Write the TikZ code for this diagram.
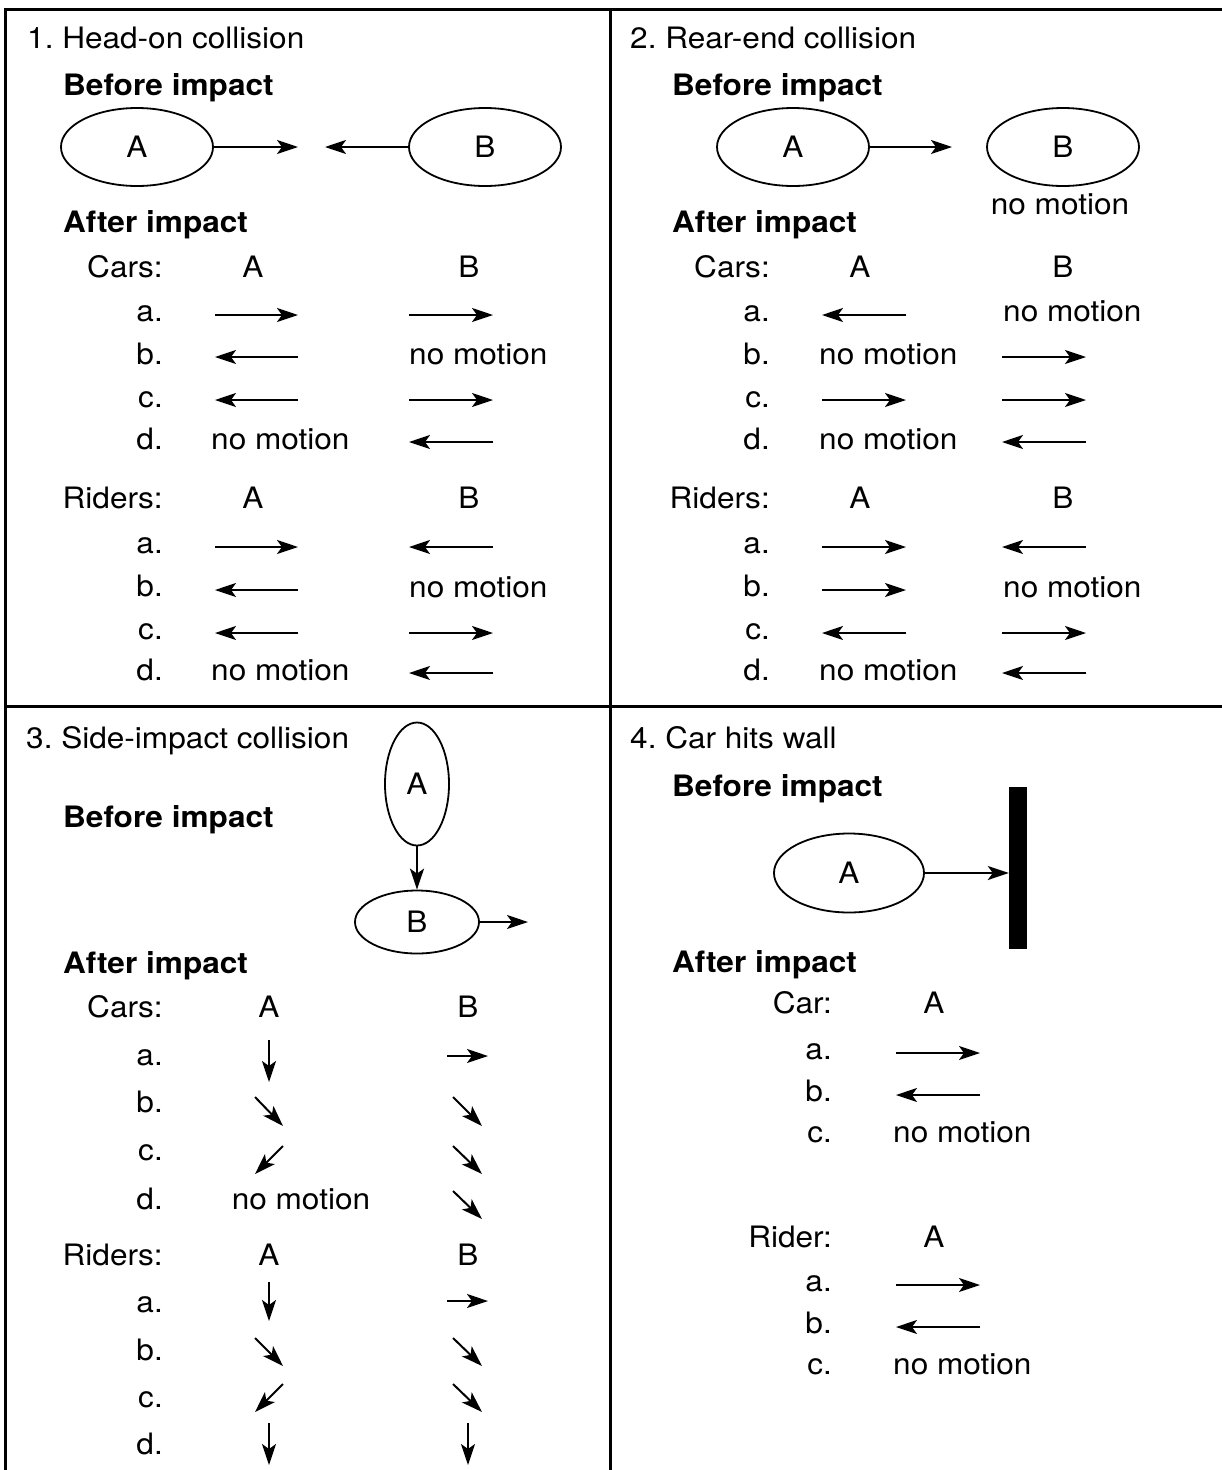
\documentclass[tikz,border=0pt]{standalone}
\usepackage{fontspec}
\setmainfont{TeX Gyre Heros}[FakeStretch=1.07]
\usetikzlibrary{arrows.meta,shapes.geometric}
\newcommand\mvR[3]{\draw[mot] (#1,#2) -- ++(#3,0);}
\newcommand\mvL[3]{\draw[mot] (#1+#3,#2) -- ++(-#3,0);}
\begin{document}
\frenchspacing
\begin{tikzpicture}[x=1pt,y=-1pt,
  every node/.style={font=\fontsize{29.5}{34}\selectfont, inner sep=0pt},
  frame/.style={line width=3pt},
  mot/.style={line width=2pt,-{Stealth[length=21pt,width=14pt,inset=5pt]}},
  car/.style={draw,ellipse,line width=1.8pt,minimum width=152pt,minimum height=78pt},
  hd/.style={anchor=mid west,yshift=-5pt,font=\fontsize{29.5}{34}\selectfont\bfseries},
  ttl/.style={anchor=mid west,yshift=-5pt},
  lbl/.style={anchor=mid east,yshift=-5pt},
  col/.style={anchor=mid,yshift=-5pt},
  nm/.style={anchor=mid west,yshift=-5pt},
]
\useasboundingbox (0,0) rectangle (1222,1470);
\fill[white] (0,0) rectangle (1222,1470);
% frame
\draw[frame] (1222,9) -- (5,9) -- (5,1470);
\draw[frame] (610,9) -- (610,1470);
\draw[frame] (5,706) -- (1222,706);

% ================= Panel 1 =================
\node[ttl] (t1) at (27,41) {1. Head-on collision};
\node[hd] (b1) at (63,88) {Before impact};
\node[car] (A1) at (137,147) {A};
\node[car] (B1) at (485,147) {B};
\coordinate (A1t) at (298,147);
\coordinate (B1t) at (325,147);
\draw[mot] (A1.east) -- (A1t);
\draw[mot] (B1.west) -- (B1t);
\node[hd] (f1) at (63,225) {After impact};
\node[lbl] (c1) at (163,270) {Cars:};
\node[col] (c1A) at (253,270) {A};
\node[col] (c1B) at (469,270) {B};
\node[lbl] (c1a) at (163,314) {a.};
\node[lbl] (c1b) at (163,357) {b.};
\node[lbl] (c1c) at (163,400) {c.};
\node[lbl] (c1d) at (163,442) {d.};
\mvR{215}{315}{83} \mvR{409}{315}{84}
\mvL{215}{357}{83} \node[nm] (n1b) at (409,357) {no motion};
\mvL{215}{400}{83} \mvR{409}{400}{84}
\node[nm] (n1d) at (211,442) {no motion}; \mvL{409}{442}{84}
\node[lbl] (r1) at (163,501) {Riders:};
\node[col] (r1A) at (253,501) {A};
\node[col] (r1B) at (469,501) {B};
\node[lbl] (r1a) at (163,546) {a.};
\node[lbl] (r1b) at (163,589) {b.};
\node[lbl] (r1c) at (163,632) {c.};
\node[lbl] (r1d) at (163,673) {d.};
\mvR{215}{547}{83} \mvL{409}{547}{84}
\mvL{215}{590}{83} \node[nm] (m1b) at (409,590) {no motion};
\mvL{215}{633}{83} \mvR{409}{633}{84}
\node[nm] (m1d) at (211,673) {no motion}; \mvL{409}{673}{84}

% ================= Panel 2 =================
\node[ttl] (t2) at (630,41) {2. Rear-end collision};
\node[hd] (b2) at (672,88) {Before impact};
\node[car] (A2) at (793,147) {A};
\node[car] (B2) at (1063,147) {B};
\coordinate (A2t) at (952,147);
\draw[mot] (A2.east) -- (A2t);
\node[col] (B2n) at (1060,207) {no motion};
\node[hd] (f2) at (672,225) {After impact};
\node[lbl] (c2) at (770,270) {Cars:};
\node[col] (c2A) at (860,270) {A};
\node[col] (c2B) at (1063,270) {B};
\node[lbl] (c2a) at (770,314) {a.};
\node[lbl] (c2b) at (770,357) {b.};
\node[lbl] (c2c) at (770,400) {c.};
\node[lbl] (c2d) at (770,442) {d.};
\mvL{822}{315}{84} \node[nm] (n2a) at (1003,314) {no motion};
\node[nm] (n2b) at (819,357) {no motion}; \mvR{1002}{357}{84}
\mvR{822}{400}{84} \mvR{1002}{400}{84}
\node[nm] (n2d) at (819,442) {no motion}; \mvL{1002}{442}{84}
\node[lbl] (r2) at (770,501) {Riders:};
\node[col] (r2A) at (860,501) {A};
\node[col] (r2B) at (1063,501) {B};
\node[lbl] (r2a) at (770,546) {a.};
\node[lbl] (r2b) at (770,589) {b.};
\node[lbl] (r2c) at (770,632) {c.};
\node[lbl] (r2d) at (770,673) {d.};
\mvR{822}{547}{84} \mvL{1002}{547}{84}
\mvR{822}{590}{84} \node[nm] (m2b) at (1003,590) {no motion};
\mvL{822}{633}{84} \mvR{1002}{633}{84}
\node[nm] (m2d) at (819,673) {no motion}; \mvL{1002}{673}{84}

% ================= Panel 3 =================
\node[ttl] (t3) at (26,741) {3. Side-impact collision};
\node[hd] (b3) at (63,820) {Before impact};
\node[draw,ellipse,line width=1.8pt,minimum width=64pt,minimum height=123pt] (A3) at (417,784) {A};
\node[draw,ellipse,line width=1.8pt,minimum width=124pt,minimum height=63pt] (B3) at (417,922) {B};
\draw[mot] (A3.south) -- (B3.north);
\coordinate (B3t) at (528,922);
\draw[mot] (B3.east) -- (B3t);
\node[hd] (f3) at (63,966) {After impact};
\node[lbl] (c3) at (163,1010) {Cars:};
\node[col] (c3A) at (269,1010) {A};
\node[col] (c3B) at (468,1010) {B};
\node[lbl] (c3a) at (163,1058) {a.};
\node[lbl] (c3b) at (163,1105) {b.};
\node[lbl] (c3c) at (163,1153) {c.};
\node[lbl] (c3d) at (163,1202) {d.};
\draw[mot] (269,1040) -- (269,1082);
\draw[mot] (447,1056) -- (488,1056);
\draw[mot] (255,1097) -- (283,1126);
\draw[mot] (453,1097) -- (482,1126);
\draw[mot] (283,1146) -- (255,1174);
\draw[mot] (453,1146) -- (482,1174);
\node[col] (n3d) at (301,1202) {no motion};
\draw[mot] (453,1191) -- (482,1219);
\node[lbl] (r3) at (163,1258) {Riders:};
\node[col] (r3A) at (269,1258) {A};
\node[col] (r3B) at (468,1258) {B};
\node[lbl] (r3a) at (163,1305) {a.};
\node[lbl] (r3b) at (163,1353) {b.};
\node[lbl] (r3c) at (163,1400) {c.};
\node[lbl] (r3d) at (163,1447) {d.};
\draw[mot] (269,1282) -- (269,1321);
\draw[mot] (447,1301) -- (488,1301);
\draw[mot] (255,1338) -- (283,1366);
\draw[mot] (453,1338) -- (482,1366);
\draw[mot] (283,1384) -- (255,1412);
\draw[mot] (453,1384) -- (482,1412);
\draw[mot] (269,1423) -- (269,1465);
\draw[mot] (468,1423) -- (468,1465);

% ================= Panel 4 =================
\node[ttl] (t4) at (630,741) {4. Car hits wall};
\node[hd] (b4) at (672,789) {Before impact};
\node[car,minimum width=150pt,minimum height=79pt] (A4) at (849,873) {A};
\node[fill=black,minimum width=18pt,minimum height=162pt] (wall) at (1018,868) {};
\draw[mot] (A4.east) -- (A4.east -| wall.west);
\node[hd] (f4) at (672,965) {After impact};
\node[lbl] (c4) at (832,1006) {Car:};
\node[col] (c4A) at (934,1006) {A};
\node[lbl] (c4a) at (832,1052) {a.};
\node[lbl] (c4b) at (832,1094) {b.};
\node[lbl] (c4c) at (832,1135) {c.};
\mvR{896}{1053}{84}
\mvL{896}{1095}{84}
\node[nm] (n4c) at (893,1135) {no motion};
\node[lbl] (r4) at (832,1240) {Rider:};
\node[col] (r4A) at (934,1240) {A};
\node[lbl] (r4a) at (832,1284) {a.};
\node[lbl] (r4b) at (832,1326) {b.};
\node[lbl] (r4c) at (832,1367) {c.};
\mvR{896}{1285}{84}
\mvL{896}{1327}{84}
\node[nm] (n4d) at (893,1367) {no motion};
\end{tikzpicture}
\end{document}
